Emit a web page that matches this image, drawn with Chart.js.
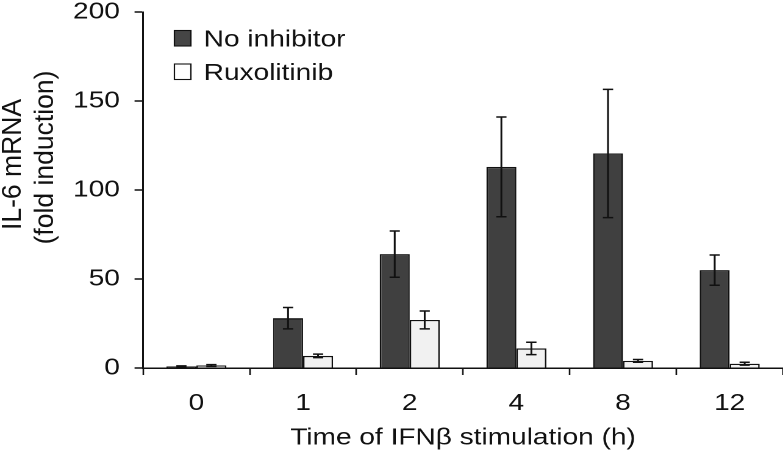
<!DOCTYPE html>
<html>
<head>
<meta charset="utf-8">
<script src="https://cdn.jsdelivr.net/npm/chart.js@4/dist/chart.umd.min.js"></script>
<style>
  html, body { margin: 0; padding: 0; background: #fff; overflow: hidden; }
  #wrap { width: 642px; height: 461px; transform: scaleX(1.21963); transform-origin: 0 0; }
</style>
</head>
<body>
<div id="wrap"><canvas id="c" width="642" height="461"></canvas></div>
<script>
const categories = ['0', '1', '2', '4', '8', '12'];
const noInhibitor = [0.9, 28, 64, 113, 120.5, 55];
const noInhibitorErr = [0.3, 6, 13, 28, 36, 8.5];
const ruxolitinib = [1.4, 6.8, 27, 11, 4, 2.4];
const ruxolitinibErr = [0.5, 1, 5, 3.5, 0.8, 0.8];
const yTicks = [0, 50, 100, 150, 200];
const seriesLabels = ['No inhibitor', 'Ruxolitinib'];
const xTitle = 'Time of IFN\u03B2 stimulation (h)';
const yTitle = ['IL-6 mRNA', '(fold induction)'];

const FONT = "'Liberation Sans', Arial, sans-serif";
const FS = 23;
const STRETCH = 1.21963;
Chart.defaults.font.family = FONT;
Chart.defaults.font.size = FS;
Chart.defaults.color = '#111';

const errorBars = {
  id: 'errorBars',
  afterDatasetsDraw(chart) {
    const ctx = chart.ctx;
    const y = chart.scales.y;
    chart.data.datasets.forEach((ds, i) => {
      const meta = chart.getDatasetMeta(i);
      meta.data.forEach((bar, j) => {
        const v = ds.data[j], e = ds.errors[j];
        const top = y.getPixelForValue(v + e);
        const bot = y.getPixelForValue(v - e);
        const cap = 4.2;
        ctx.save();
        ctx.strokeStyle = '#111';
        ctx.lineWidth = 1.5;
        ctx.beginPath();
        ctx.moveTo(bar.x, top); ctx.lineTo(bar.x, bot);
        ctx.moveTo(bar.x - cap, top); ctx.lineTo(bar.x + cap, top);
        ctx.moveTo(bar.x - cap, bot); ctx.lineTo(bar.x + cap, bot);
        ctx.stroke();
        ctx.restore();
      });
    });
  }
};

const yTitlePlugin = {
  id: 'yTitlePlugin',
  afterDraw(chart) {
    const ctx = chart.ctx;
    const baselines = [17.0, 43.7];
    const centers = [164.5, 157.5];
    yTitle.forEach((line, i) => {
      ctx.save();
      ctx.translate(baselines[i], centers[i]);
      ctx.scale(1 / STRETCH, 1);
      ctx.rotate(-Math.PI / 2);
      ctx.fillStyle = '#111';
      ctx.font = '26.5px ' + FONT;
      ctx.textAlign = 'center';
      ctx.textBaseline = 'alphabetic';
      ctx.fillText(line, 0, 0);
      ctx.restore();
    });
  }
};

const legendInside = {
  id: 'legendInside',
  afterDraw(chart) {
    const ctx = chart.ctx;
    const boxX = 143, boxW = 13.5, boxH = 15.5, textX = 167;
    const rows = [{ y: 30.5, base: 46.5 }, { y: 64, base: 80 }];
    chart.data.datasets.forEach((ds, i) => {
      const r = rows[i];
      ctx.save();
      ctx.fillStyle = ds.legendColor;
      ctx.fillRect(boxX, r.y, boxW, boxH);
      ctx.strokeStyle = '#111';
      ctx.lineWidth = 1.1;
      ctx.strokeRect(boxX, r.y, boxW, boxH);
      ctx.fillStyle = '#111';
      ctx.font = FS + 'px ' + FONT;
      ctx.textBaseline = 'alphabetic';
      ctx.textAlign = 'left';
      ctx.fillText(ds.label, textX, r.base);
      ctx.restore();
    });
  }
};

new Chart(document.getElementById('c'), {
  type: 'bar',
  data: {
    labels: categories,
    datasets: [
      {
        label: seriesLabels[0],
        data: noInhibitor,
        errors: noInhibitorErr,
        backgroundColor: '#404040',
        legendColor: '#454545',
        borderColor: '#111',
        borderWidth: 1.3,
        borderSkipped: 'bottom'
      },
      {
        label: seriesLabels[1],
        data: ruxolitinib,
        errors: ruxolitinibErr,
        backgroundColor: '#f1f1f1',
        legendColor: '#ffffff',
        borderColor: '#111',
        borderWidth: 1.3,
        borderSkipped: 'bottom'
      }
    ]
  },
  options: {
    responsive: false,
    devicePixelRatio: 2,
    animation: false,
    categoryPercentage: 0.5625,
    barPercentage: 1.0,
    layout: { padding: { top: 12, right: 0, left: 0, bottom: 0 } },
    plugins: { legend: { display: false }, tooltip: { enabled: false } },
    scales: {
      x: {
        type: 'category',
        grid: { offset: true, drawOnChartArea: false, drawTicks: true, tickLength: 7, tickColor: '#111', tickWidth: 1.3 },
        border: { color: '#111', width: 1.5 },
        ticks: { padding: 15, color: '#111', font: { size: FS } },
        title: { display: true, text: xTitle, color: '#111', font: { size: FS }, padding: { top: 0, bottom: 9 } },
        afterFit(scale) { scale.height = 93; scale.paddingLeft = 0; scale.paddingRight = 0; }
      },
      y: {
        min: 0,
        max: 200,
        afterBuildTicks(scale) { scale.ticks = yTicks.map(v => ({ value: v })); },
        grid: { drawOnChartArea: false, drawTicks: true, tickLength: 7, tickColor: '#111', tickWidth: 1.5 },
        border: { color: '#111', width: 1.5 },
        ticks: { padding: 12, color: '#111', font: { size: FS } },
        title: { display: false },
        afterFit(scale) { scale.width = 117.3; scale.paddingTop = 0; scale.paddingBottom = 0; }
      }
    }
  },
  plugins: [errorBars, yTitlePlugin, legendInside]
});
</script>
</body>
</html>
